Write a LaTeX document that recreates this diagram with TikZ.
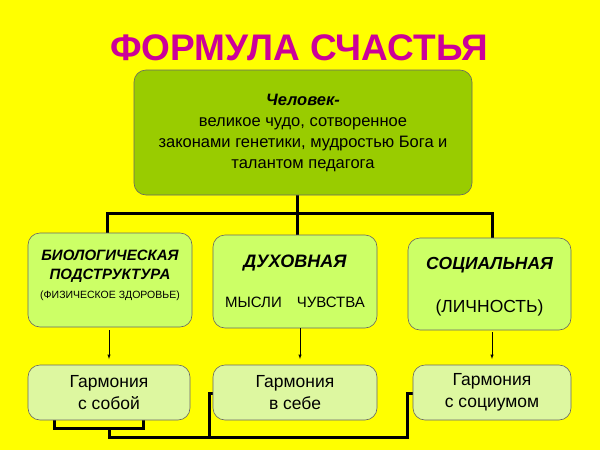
\documentclass[tikz,border=0pt]{standalone}
\usepackage{fontspec}
\setmainfont{Liberation Sans}
\begin{document}
\begin{tikzpicture}[x=1pt,y=-1pt,
  box/.style={draw=black!60,rounded corners=12pt,fill=midgreen,line width=0.6pt},
  link/.style={line width=3pt},
  arr/.style={-latex,line width=0.5pt}]
\definecolor{bgyellow}{HTML}{FFFF00}
\definecolor{topgreen}{HTML}{99CC00}
\definecolor{midgreen}{HTML}{CCFF66}
\definecolor{lowgreen}{HTML}{DDF7A0}
\definecolor{titlemag}{HTML}{CC0099}
\fill[bgyellow] (0,0) rectangle (600,450);
\useasboundingbox (0,0) rectangle (600,450);
\node[text=titlemag] (title) at (299,48) {\fontsize{37}{37}\selectfont\bfseries ФОРМУЛА СЧАСТЬЯ};
% links
\draw[link] (297,195) -- (297,213);
\draw[link] (107,233) -- (107,213) -- (492,213) -- (492,238);
\draw[link] (297,213) -- (297,235);
\draw[link] (54,420) -- (54,428) -- (143,428) -- (143,420);
\draw[link] (109,428) -- (109,437) -- (407,437) -- (407,393) -- (413,393);
\draw[link] (209,437) -- (209,393) -- (213,393);
% boxes
\node[box,fill=topgreen,minimum width=338pt,minimum height=125pt,align=center,font=\fontsize{16.5}{21}\selectfont] (top) at (303,132.5)
 {\textbf{\textit{Человек-}}\\великое чудо, сотворенное\\законами генетики, мудростью Бога и\\талантом педагога};
\node[box,minimum width=164pt,minimum height=94pt] (bio) at (110,280) {};
\node[align=center,font=\fontsize{15}{19}\selectfont\bfseries\itshape] at (110,266) {БИОЛОГИЧЕСКАЯ\\ПОДСТРУКТУРА};
\node[font=\fontsize{10.5}{12}\selectfont] at (110,296) {(ФИЗИЧЕСКОЕ ЗДОРОВЬЕ)};
\node[box,minimum width=164pt,minimum height=93pt] (duh) at (295,281.5) {};
\node at (295,263) {\fontsize{18}{20}\selectfont\bfseries\itshape ДУХОВНАЯ};
\node at (295,302) {\fontsize{15}{17}\selectfont МЫСЛИ\quad ЧУВСТВА};
\node[box,minimum width=163pt,minimum height=92pt] (soc) at (489.5,284) {};
\node at (489.5,265) {\fontsize{17.5}{20}\selectfont\bfseries\itshape СОЦИАЛЬНАЯ};
\node at (489.5,308) {\fontsize{17.5}{20}\selectfont (ЛИЧНОСТЬ)};
\node[box,fill=lowgreen,minimum width=162pt,minimum height=55pt,align=center,font=\fontsize{17.5}{22}\selectfont] (g1) at (109,392.5) {Гармония\\с собой};
\node[box,fill=lowgreen,minimum width=164pt,minimum height=55pt,align=center,font=\fontsize{17.5}{22}\selectfont] (g2) at (295,392.5) {Гармония\\в себе};
\node[box,fill=lowgreen,minimum width=158pt,minimum height=55pt,align=center,font=\fontsize{17.5}{22}\selectfont] (g3) at (492,392.5) {Гармония\\с социумом};
\draw[arr] (109,330) -- (109,359);
\draw[arr] (300,328) -- (300,359);
\draw[arr] (492,332) -- (492,359);
\end{tikzpicture}
\end{document}
